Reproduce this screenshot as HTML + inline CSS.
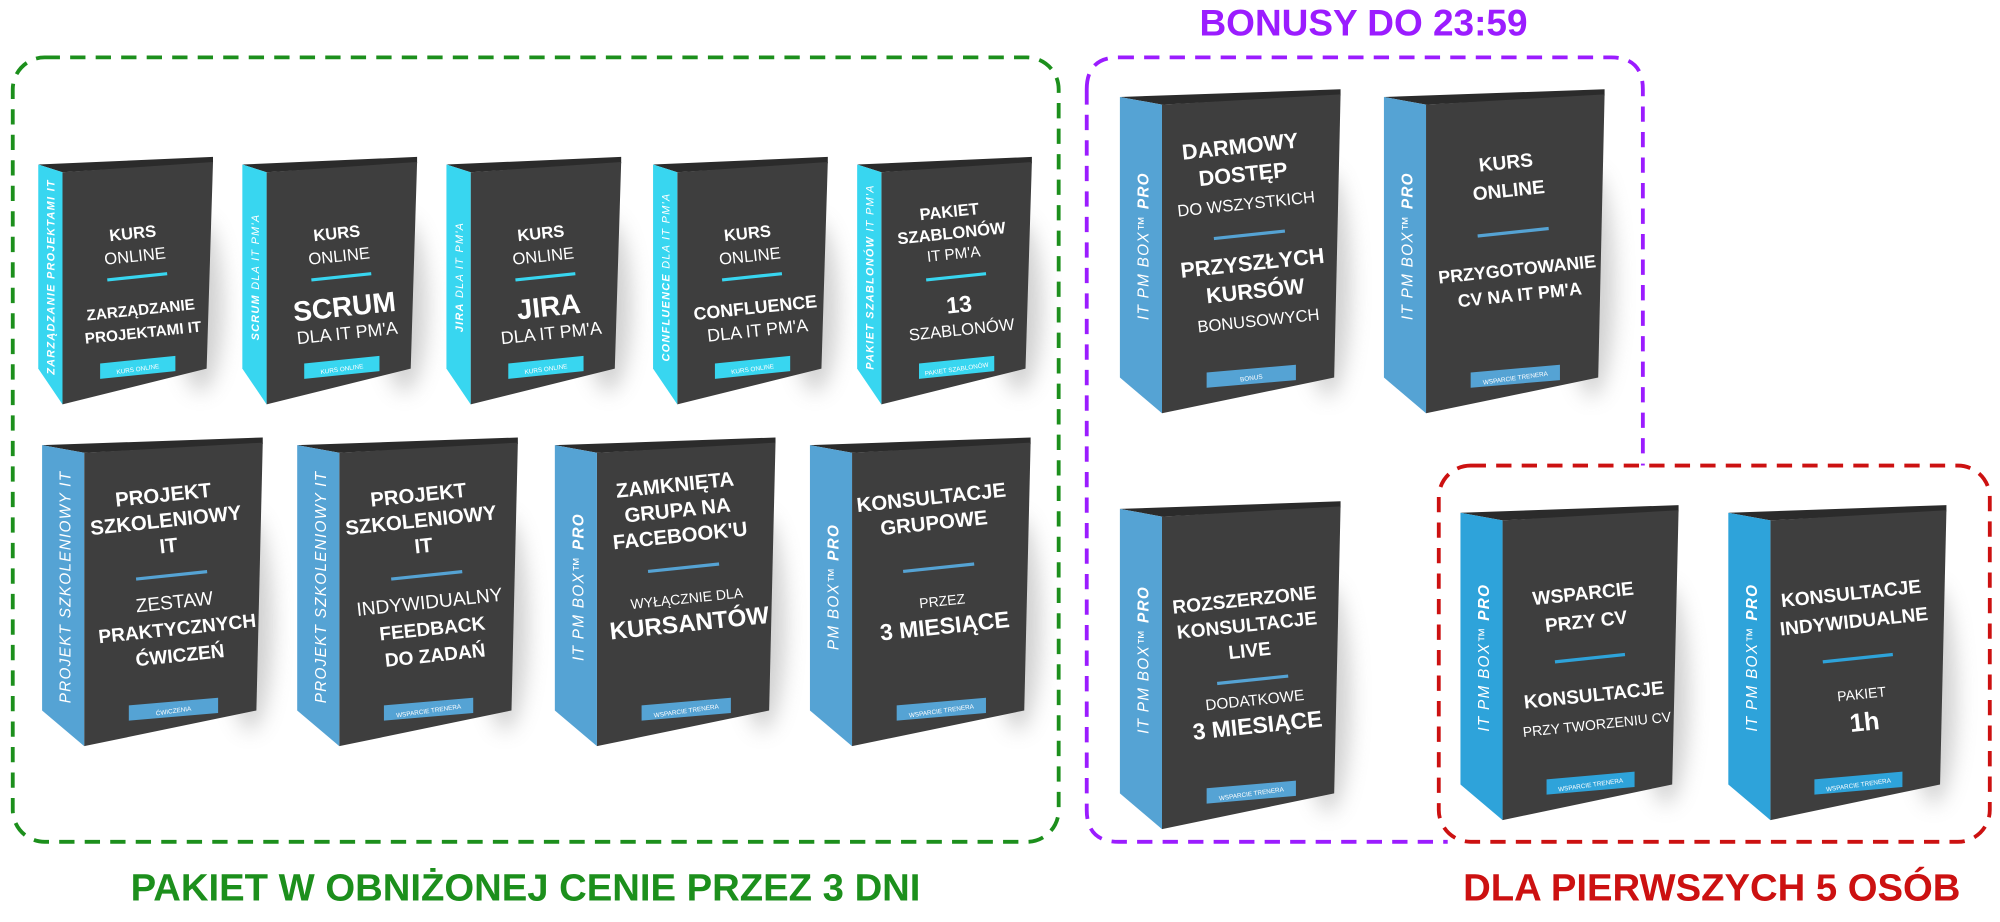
<!DOCTYPE html>
<html><head><meta charset="utf-8">
<style>
html,body{margin:0;padding:0;background:#fff;overflow:hidden;}
#wrap{width:1568px;height:723px;transform:scale(1.27551);transform-origin:0 0;position:relative;}
svg{position:absolute;left:0;top:0;}
text{font-family:"Liberation Sans",sans-serif;}
</style></head>
<body>
<div id="wrap">
<svg id="s" width="1568" height="723" viewBox="0 0 1568 723" xmlns="http://www.w3.org/2000/svg">
<defs><filter id="bl" x="-50%" y="-50%" width="200%" height="200%"><feGaussianBlur stdDeviation="8"/></filter></defs>
<rect x="10" y="45" width="820" height="615" rx="25" fill="none" stroke="#1c8f1c" stroke-width="3" stroke-dasharray="12 8"/>
<path d="M877,45 H1263 Q1288,45 1288,70 V365 M852,70 V635 Q852,660 877,660 H1135 M852,70 Q852,45 877,45" fill="none" stroke="#9b1cff" stroke-width="3" stroke-dasharray="12 8"/>
<rect x="1128" y="365" width="432" height="295" rx="25" fill="none" stroke="#cc1111" stroke-width="3" stroke-dasharray="12 8"/>
<text x="1069" y="28" text-anchor="middle" font-size="29" font-weight="bold" fill="#9b1cff">BONUSY DO 23:59</text>
<text x="412" y="706" text-anchor="middle" font-size="30" font-weight="bold" fill="#1c8f1c">PAKIET W OBNIŻONEJ CENIE PRZEZ 3 DNI</text>
<text x="1342" y="706" text-anchor="middle" font-size="30" font-weight="bold" fill="#cc1111">DLA PIERWSZYCH 5 OSÓB</text>
<g id="boxes"></g>
</svg>
</div>
<script>
var NS="http://www.w3.org/2000/svg",G=document.getElementById("boxes");
function el(t,a,p){var e=document.createElementNS(NS,t);for(var k in a)e.setAttribute(k,a[k]);(p||G).appendChild(e);return e;}
function box(x,top,ws,wf,h,sc,st,lines,div,label){
 var r=x+ws+wf,b=top+h;
 el("ellipse",{cx:r-10,cy:top+h*0.6,rx:18,ry:h*0.35,fill:"#999",opacity:0.45,filter:"url(#bl)"});
 el("polygon",{points:[x,top+4,r,top-2,r,top+3,x+ws,top+10].join(","),fill:"#2b2b2b"});
 el("polygon",{points:[x+ws,top+10,r,top+2,r-5,b-28,x+ws,b].join(","),fill:"#3e3e3e"});
 el("polygon",{points:[x,top+4,x+ws,top+10,x+ws,b,x,b-28].join(","),fill:sc});
 var scx=x+ws/2,scy=top+h*0.48;
 var t=el("text",{x:scx,y:scy+ws*0.18,"text-anchor":"middle","font-size":Math.min(ws*0.45,12),"font-style":"italic",fill:"#fff",transform:"rotate(-90 "+scx+" "+scy+")","letter-spacing":"1"});
 t.innerHTML=st;
 var cx=x+ws+wf/2,g=el("g",{transform:"rotate(-6 "+cx+" "+(top+h/2)+")"});
 lines.forEach(function(l){var tt=el("text",{x:cx,y:top+l[0],"text-anchor":"middle","font-size":l[2],"font-weight":l[3]?"bold":"normal",fill:"#fff"},g);tt.textContent=l[1];});
 el("line",{x1:cx-wf*0.2,x2:cx+wf*0.2,y1:top+div,y2:top+div,stroke:sc,"stroke-width":2.5},g);
 var lx=cx-wf*0.25,ly=b-38;
 el("polygon",{points:[lx,ly+6,lx+wf*0.5,ly,lx+wf*0.5,ly+12,lx,ly+18].join(","),fill:sc});
 var lt=el("text",{x:cx,y:ly+12,"text-anchor":"middle","font-size":5,fill:"#fff",transform:"rotate(-8 "+cx+" "+(ly+10)+")"});lt.textContent=label;
}
var C="#38d6f0",B="#55a3d4",R="#2ea3da";
box(30,125,19,118,192,C,"<tspan font-weight='bold'>ZARZĄDZANIE PROJEKTAMI IT</tspan>",[[62,"KURS",13,1],[80,"ONLINE",13,0],[122,"ZARZĄDZANIE",12,1],[140,"PROJEKTAMI IT",12,1]],92,"KURS ONLINE");
box(190,125,19,118,192,C,"<tspan font-weight='bold'>SCRUM</tspan> DLA IT PM'A",[[62,"KURS",13,1],[80,"ONLINE",13,0],[123,"SCRUM",22,1],[141,"DLA IT PM'A",14,0]],92,"KURS ONLINE");
box(350,125,19,118,192,C,"<tspan font-weight='bold'>JIRA</tspan> DLA IT PM'A",[[62,"KURS",13,1],[80,"ONLINE",13,0],[123,"JIRA",22,1],[141,"DLA IT PM'A",14,0]],92,"KURS ONLINE");
box(512,125,19,118,192,C,"<tspan font-weight='bold'>CONFLUENCE</tspan> DLA IT PM'A",[[62,"KURS",13,1],[80,"ONLINE",13,0],[121,"CONFLUENCE",14,1],[139,"DLA IT PM'A",14,0]],92,"KURS ONLINE");
box(672,125,19,118,192,C,"<tspan font-weight='bold'>PAKIET SZABLONÓW</tspan> IT PM'A",[[45,"PAKIET",13,1],[62,"SZABLONÓW",13,1],[78,"IT PM'A",12,0],[120,"13",18,1],[138,"SZABLONÓW",13,0]],92,"PAKIET SZABLONÓW");
box(33,345,33,140,240,B,"PROJEKT SZKOLENIOWY IT",[[48,"PROJEKT",16,1],[68,"SZKOLENIOWY",16,1],[88,"IT",16,1],[132,"ZESTAW",15,0],[153,"PRAKTYCZNYCH",15,1],[174,"ĆWICZEŃ",15,1]],106,"ĆWICZENIA");
box(233,345,33,140,240,B,"PROJEKT SZKOLENIOWY IT",[[48,"PROJEKT",16,1],[68,"SZKOLENIOWY",16,1],[88,"IT",16,1],[132,"INDYWIDUALNY",15,0],[153,"FEEDBACK",15,1],[174,"DO ZADAŃ",15,1]],106,"WSPARCIE TRENERA");
box(435,345,33,140,240,B,"IT PM BOX™ <tspan font-weight='bold'>PRO</tspan>",[[40,"ZAMKNIĘTA",16,1],[60,"GRUPA NA",16,1],[80,"FACEBOOK'U",16,1],[128,"WYŁĄCZNIE DLA",11,0],[150,"KURSANTÓW",19,1]],100,"WSPARCIE TRENERA");
box(635,345,33,140,240,B,"PM BOX™ <tspan font-weight='bold'>PRO</tspan>",[[50,"KONSULTACJE",16,1],[70,"GRUPOWE",16,1],[130,"PRZEZ",11,0],[152,"3 MIESIĄCE",18,1]],100,"WSPARCIE TRENERA");
box(878,72,33,140,252,B,"IT PM BOX™ <tspan font-weight='bold'>PRO</tspan>",[[48,"DARMOWY",17,1],[70,"DOSTĘP",17,1],[92,"DO WSZYSTKICH",13,0],[140,"PRZYSZŁYCH",17,1],[162,"KURSÓW",17,1],[184,"BONUSOWYCH",13,0]],112,"BONUS");
box(1085,72,33,140,252,B,"IT PM BOX™ <tspan font-weight='bold'>PRO</tspan>",[[60,"KURS",15,1],[82,"ONLINE",15,1],[144,"PRZYGOTOWANIE",14,1],[164,"CV NA IT PM'A",14,1]],110,"WSPARCIE TRENERA");
box(878,395,33,140,255,B,"IT PM BOX™ <tspan font-weight='bold'>PRO</tspan>",[[80,"ROZSZERZONE",15,1],[100,"KONSULTACJE",15,1],[120,"LIVE",15,1],[158,"DODATKOWE",12,0],[180,"3 MIESIĄCE",18,1]],138,"WSPARCIE TRENERA");
box(1145,398,33,138,245,R,"IT PM BOX™ <tspan font-weight='bold'>PRO</tspan>",[[72,"WSPARCIE",15,1],[94,"PRZY CV",15,1],[152,"KONSULTACJE",15,1],[174,"PRZY TWORZENIU CV",11,0]],118,"WSPARCIE TRENERA");
box(1355,398,33,138,245,R,"IT PM BOX™ <tspan font-weight='bold'>PRO</tspan>",[[72,"KONSULTACJE",15,1],[94,"INDYWIDUALNE",15,1],[150,"PAKIET",11,0],[175,"1h",20,1]],118,"WSPARCIE TRENERA");
</script>
</body></html>
